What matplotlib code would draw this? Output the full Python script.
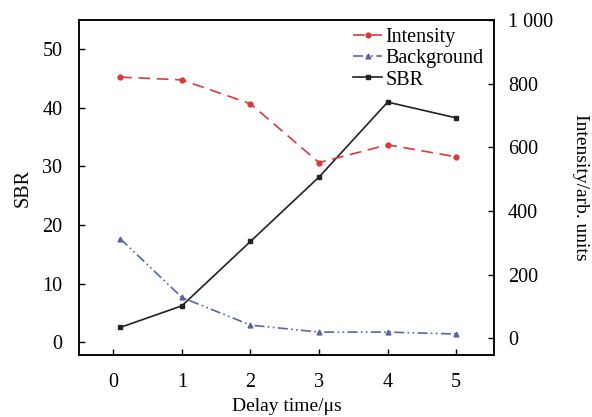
import matplotlib
matplotlib.use("Agg")
import matplotlib.pyplot as plt

plt.rcParams['font.family'] = ['Liberation Serif', 'DejaVu Serif']
plt.rcParams['mathtext.fontset'] = 'stix'

delay = [0.1, 1, 2, 3, 4, 5]
sbr = [2.5, 6.2, 17.2, 28.2, 41.0, 38.3]
intensity = [821, 812, 737, 552, 608, 570]
background = [313, 128, 41, 19, 19, 13]

x_ticks = [0, 1, 2, 3, 4, 5]
left_ticks = [0, 10, 20, 30, 40, 50]
right_ticks = [0, 200, 400, 600, 800, 1000]
right_labels = ['0', '200', '400', '600', '800', '1 000']

fig = plt.figure(figsize=(5.92, 4.17), dpi=100)
ax = fig.add_axes([0.1334, 0.1487, 0.701, 0.803])
ax2 = ax.twinx()

l_sbr, = ax.plot(delay, sbr, color='#222222', lw=1.2, marker='s', ms=3.5, label='SBR', zorder=3)
l_int, = ax2.plot(delay, intensity, color='#d83a3a', lw=1.2, ls=(0, (7, 4)), marker='o', ms=3.5, label='Intensity')
l_bg, = ax2.plot(delay, background, color='#5a64a8', lw=1.2, ls=(0, (6, 2, 1, 2, 1, 2)), marker='^', ms=3.5, label='Background')

ax.set_xlim(-0.5, 5.55)
ax.set_ylim(-2.2, 55)
ax2.set_ylim(-53, 1000)
ax.set_xticks(x_ticks)
ax.set_yticks(left_ticks)
ax2.set_yticks(right_ticks)
ax2.set_yticklabels(right_labels)

for a in (ax, ax2):
    a.tick_params(direction='in', length=4, width=1, labelsize=14.5)
    for s in a.spines.values():
        s.set_linewidth(1.1)
ax.tick_params(axis='x', pad=13)
ax.tick_params(axis='y', pad=12)
ax2.tick_params(axis='y', pad=10)

ax.set_xlabel('Delay time/μs', fontsize=14, labelpad=4)
ax.set_ylabel('SBR', fontsize=14.5, labelpad=7)
ax2.set_ylabel('Intensity/arb. units', fontsize=14, rotation=270, labelpad=26)

ax2.legend([l_int, l_bg, l_sbr], ['Intensity', 'Background', 'SBR'],
           loc='upper right', frameon=False, fontsize=14.5, handlelength=1.4,
           handletextpad=0.2, labelspacing=0.1, borderaxespad=0.0,
           bbox_to_anchor=(0.995, 1.0))

fig.savefig('out.png', dpi=100)
